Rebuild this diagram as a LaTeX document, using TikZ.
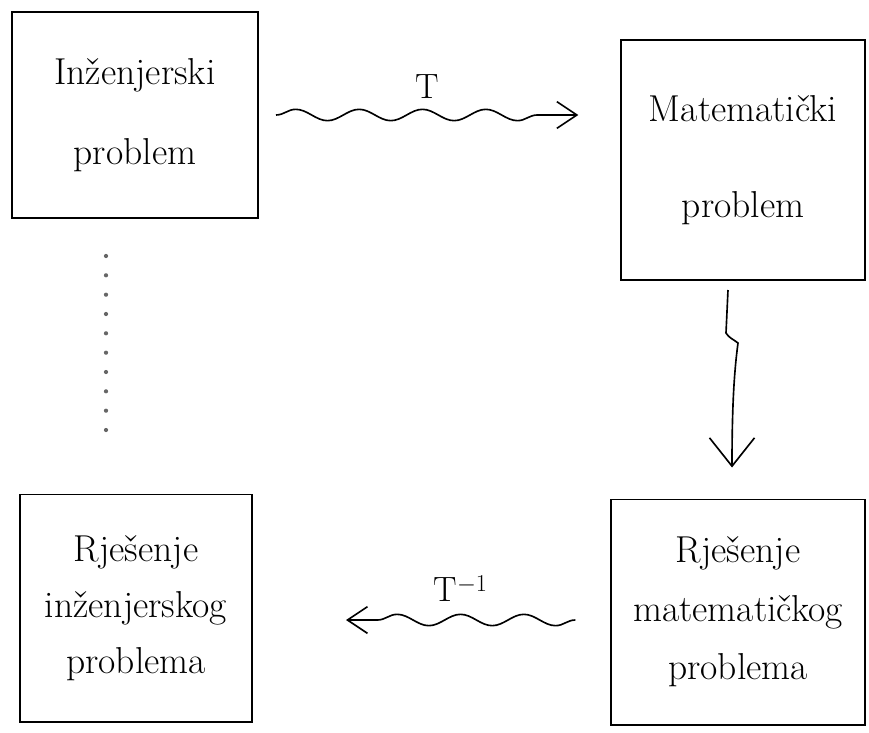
\documentclass[tikz,border=0pt]{standalone}
\usepackage{tikz}
\usetikzlibrary{arrows.meta,positioning,decorations.pathmorphing,calc}

\begin{document}
\begin{tikzpicture}[
      x=0.03cm, y=-0.03cm,
      >={Straight Barb[length=0.6cm,width=0.8cm]},
      box/.style={draw,line width=1.7pt,align=center,inner sep=0pt},
      wave/.style={line width=1.4pt,decorate,decoration={snake,segment length=1.9cm,amplitude=0.17cm,post length=0.45cm}},
      bigtip/.style={-{Straight Barb[length=0.85cm,width=1.35cm]},line width=1.4pt},
      dots/.style={line width=3.6pt,line cap=round,dash pattern=on 0pt off 0.58cm,black!60},
      lbl/.style={font=\fontsize{30}{34}\selectfont}
    ]
      \useasboundingbox (0,0) rectangle (869,733);

      \node[box,minimum width=7.38cm,minimum height=6.18cm,font=\fontsize{32}{68}\selectfont] (inz) at (135,115) {Inženjerski\\problem};
      \node[box,minimum width=7.3cm,minimum height=7.2cm,font=\fontsize{32}{82}\selectfont] (mat) at (743,160) {Matematički\\problem};
      \node[box,minimum width=6.96cm,minimum height=6.81cm,font=\fontsize{32}{48}\selectfont] (irj) at (136,608) {Rješenje\\inženjerskog\\problema};
      \node[box,minimum width=7.6cm,minimum height=6.75cm,font=\fontsize{32}{50}\selectfont] (mrj) at (738,612) {Rješenje\\matematičkog\\problema};

      % T and its inverse
      \draw[wave,->] ($(inz.east)+(17,0)$) -- node[lbl,above=0.35cm]{T} ($(inz.east -| mat.west)+(-42,0)$);
      \draw[wave,->] ($(mrj.west)+(-35,8)$) -- node[lbl,above=0.4cm]{T$^{-1}$} ($(mrj.west -| irj.east)+(93,8)$);

      % solving step
      \coordinate (v0) at ($(mat.south)+(-15,9)$);
      \coordinate (v1) at ($(mat.south)+(-17,52)$);
      \coordinate (v2) at ($(mat.south)+(-5,62)$);
      \coordinate (v3) at ($(mrj.north)+(-6,-31)$);
      \draw[bigtip] (v0) -- (v1) .. controls +(3,5) and +(-5,-4) .. (v2) .. controls +(-4,30) and +(0,-60) .. (v3);

      \draw[dots] ($(inz.south)+(-29,37)$) -- ($(irj.north)+(-30,-45)$);
    \end{tikzpicture}
\end{document}
